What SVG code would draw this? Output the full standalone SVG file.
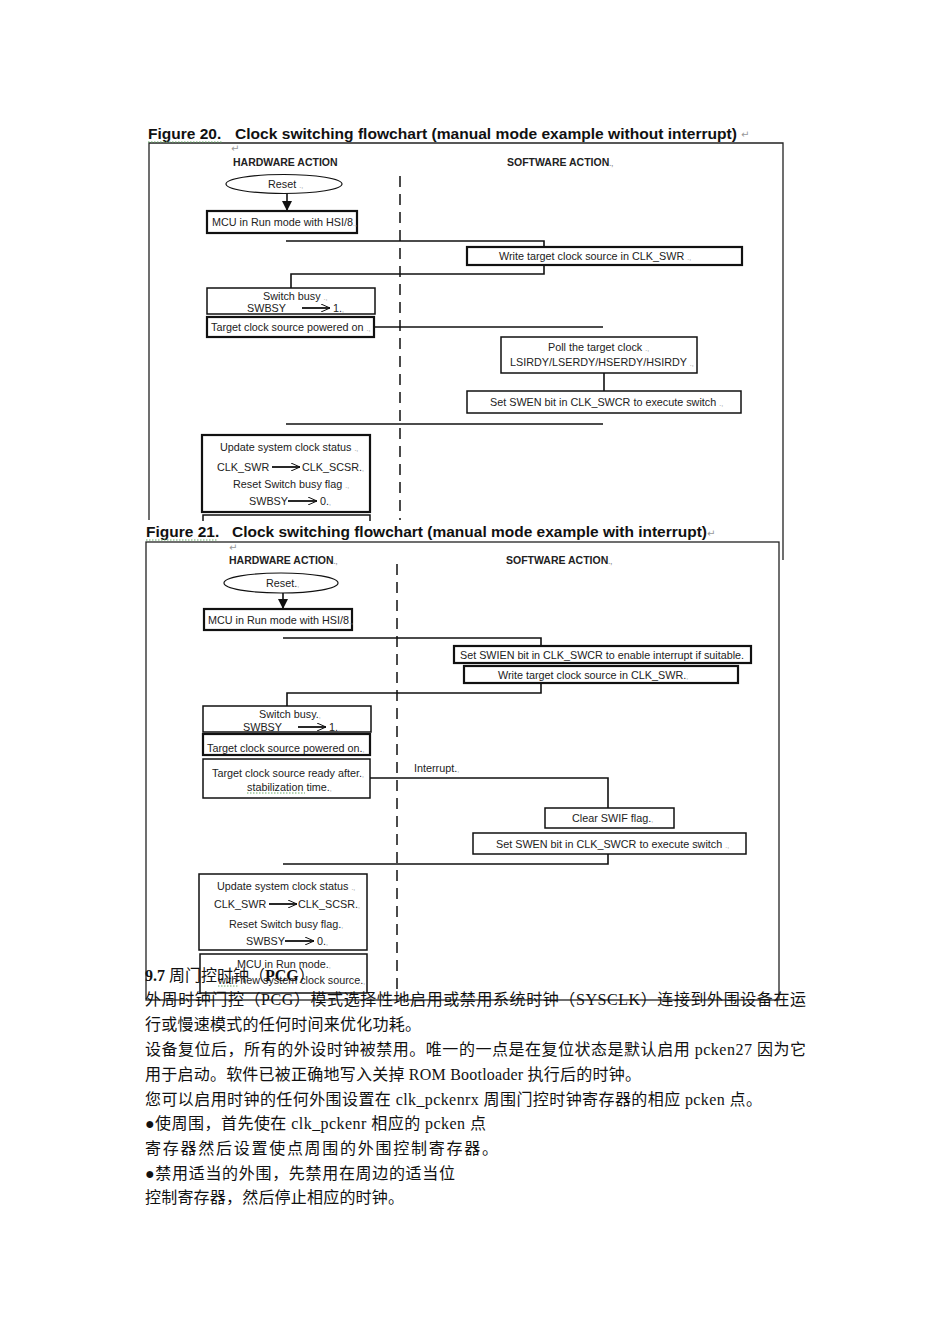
<svg xmlns="http://www.w3.org/2000/svg" width="950" height="1344" viewBox="0 0 950 1344">
<style>
.bg{fill:#fff}
.t{font-family:"Liberation Sans",Arial,sans-serif;font-size:10.8px;fill:#222}
.h{font-family:"Liberation Sans",Arial,sans-serif;font-size:10.5px;font-weight:bold;fill:#222}
.title{font-family:"Liberation Sans",Arial,sans-serif;font-size:15.5px;font-weight:bold;fill:#111}
.pm{fill:#999;font-size:7px}
.rt{font-family:"DejaVu Sans",sans-serif;font-size:10px;fill:#999}
.box{fill:#fff;stroke:#111;stroke-width:1.5}
.tb{fill:#fff;stroke:#111;stroke-width:2.2}
.ln{fill:none;stroke:#111;stroke-width:1.6}
.fr{fill:none;stroke:#222;stroke-width:1.3}
.dash{fill:none;stroke:#111;stroke-width:1.5;stroke-dasharray:11 7}
.ar{fill:none;stroke:#111;stroke-width:1.8}
.zh{font-family:"Liberation Serif","Noto Sans CJK SC",serif;font-size:16px;fill:#111}
.wv{fill:none;stroke:#6a6;stroke-width:1;stroke-dasharray:1.5 1.5}
</style>
<defs>
<marker id="down" markerWidth="10" markerHeight="10" refX="10" refY="5" orient="auto" markerUnits="userSpaceOnUse" viewBox="0 0 10 10">
<path d="M0,0 L10,5 L0,10 Z" fill="#111"/>
</marker>
<marker id="open" markerWidth="10" markerHeight="8" refX="9" refY="4" orient="auto" markerUnits="userSpaceOnUse" viewBox="0 0 10 8">
<path d="M0,0 L9,4 L0,8" fill="none" stroke="#111" stroke-width="1"/>
</marker>
</defs>
<rect class="bg" x="0" y="0" width="950" height="1344"/>

<!-- Figure 20 -->
<g id="fig20-frame">
<path class="fr" d="M149,520 L149,143 L783,143 L783,560"/>
<text class="title" x="148" y="139">Figure 20.</text>
<text class="title" x="235" y="139" textLength="502" lengthAdjust="spacingAndGlyphs">Clock switching flowchart (manual mode example without interrupt)</text>
<text class="rt" x="741" y="138">↵</text>
<path class="wv" d="M148,142 L222,142"/>
<text class="rt" x="231" y="152">↵</text>
<text class="h" x="233" y="166">HARDWARE ACTION</text>
<text class="h" x="507" y="166">SOFTWARE ACTION<tspan class="pm">.,</tspan></text>
<path class="dash" d="M400,176 L400,520"/>
</g>

<g id="f20-connectors">
<path class="ln" d="M287,193 L287,211" marker-end="url(#down)"/>
<path class="ln" d="M286,241 L544,241 L544,247"/>
<path class="ln" d="M544,265 L544,274 L291,274 L291,288"/>
<path class="ln" d="M374,327 L603,327"/>
<path class="ln" d="M604,373 L604,391"/>
<path class="ln" d="M286,424 L603,424"/>
</g>

<g id="f20-reset">
<ellipse cx="284" cy="184" rx="58" ry="9.5" fill="#fff" stroke="#111" stroke-width="1.2"/>
<text class="t" x="268" y="188">Reset <tspan class="pm">.,</tspan></text>
</g>
<g id="f20-mcu">
<rect class="tb" x="207" y="211" width="150" height="22"/>
<text class="t" x="212" y="226">MCU in Run mode with HSI/8<tspan class="pm">.,</tspan></text>
</g>
<g id="f20-write">
<rect class="tb" x="467" y="247" width="275" height="18"/>
<text class="t" x="499" y="260">Write target clock source in CLK_SWR <tspan class="pm">.,</tspan></text>
</g>
<g id="f20-busy">
<rect class="box" x="207" y="288" width="168" height="26"/>
<text class="t" x="263" y="300">Switch busy <tspan class="pm">.,</tspan></text>
<text class="t" x="247" y="312">SWBSY</text>
<path class="ar" d="M302,308 L330,308" marker-end="url(#open)"/>
<text class="t" x="333" y="312">1.<tspan class="pm">,</tspan></text>
</g>
<g id="f20-powered">
<rect class="tb" x="207" y="317" width="167" height="20"/>
<text class="t" x="211" y="331">Target clock source powered on <tspan class="pm">.,</tspan></text>
</g>
<g id="f20-poll">
<rect class="box" x="501" y="337" width="196" height="36"/>
<text class="t" x="548" y="351">Poll the target clock <tspan class="pm">.,</tspan></text>
<text class="t" x="510" y="366">LSIRDY/LSERDY/HSERDY/HSIRDY <tspan class="pm">.,</tspan></text>
</g>
<g id="f20-swen">
<rect class="box" x="467" y="391" width="274" height="22"/>
<text class="t" x="490" y="406">Set SWEN bit in CLK_SWCR to execute switch <tspan class="pm">.,</tspan></text>
</g>
<g id="f20-update">
<rect class="tb" x="202" y="435" width="168" height="77"/>
<text class="t" x="220" y="451">Update system clock status <tspan class="pm">.,</tspan></text>
<text class="t" x="217" y="471">CLK_SWR</text>
<path class="ar" d="M272,467 L300,467" marker-end="url(#open)"/>
<text class="t" x="302" y="471">CLK_SCSR.<tspan class="pm">,</tspan></text>
<text class="t" x="233" y="488">Reset Switch busy flag <tspan class="pm">.,</tspan></text>
<text class="t" x="249" y="505">SWBSY</text>
<path class="ar" d="M288,501 L317,501" marker-end="url(#open)"/>
<text class="t" x="320" y="505">0.<tspan class="pm">,</tspan></text>
</g>
<g id="f20-next">
<path class="box" d="M203,530 L203,515 L370,515 L370,530"/>
</g>

<!-- Figure 21 -->
<g id="fig21-frame">
<rect class="bg" x="143" y="521" width="600" height="20"/>
<text class="title" x="146" y="537">Figure 21.</text>
<text class="title" x="232" y="537" textLength="475" lengthAdjust="spacingAndGlyphs">Clock switching flowchart (manual mode example with interrupt)</text>
<text class="rt" x="707" y="537">↵</text>
<path class="wv" d="M146,540 L218,540"/>
<rect class="fr" x="146" y="542" width="633" height="458"/>
<text class="rt" x="229" y="551">↵</text>
<text class="h" x="229" y="564">HARDWARE ACTION<tspan class="pm">.,</tspan></text>
<text class="h" x="506" y="564">SOFTWARE ACTION<tspan class="pm">.,</tspan></text>
<path class="dash" d="M397,564 L397,995"/>
</g>

<g id="f21-connectors">
<path class="ln" d="M283,593 L283,609" marker-end="url(#down)"/>
<path class="ln" d="M283,638 L541,638 L541,646"/>
<path class="ln" d="M541,683 L541,693 L287,693 L287,706"/>
<path class="ln" d="M370,778 L608,778 L608,808"/>
<path class="ln" d="M608,854 L608,864 L283,864"/>
<text class="t" x="414" y="772">Interrupt.<tspan class="pm">,</tspan></text>
</g>

<g id="f21-reset">
<ellipse cx="281" cy="583" rx="57" ry="10" fill="#fff" stroke="#111" stroke-width="1.2"/>
<text class="t" x="266" y="587">Reset.<tspan class="pm">,</tspan></text>
</g>
<g id="f21-mcu">
<rect class="tb" x="204" y="609" width="148" height="21"/>
<text class="t" x="208" y="624">MCU in Run mode with HSI/8<tspan class="pm">.,</tspan></text>
</g>
<g id="f21-swien">
<rect class="tb" x="454" y="646" width="297" height="17"/>
<text class="t" x="460" y="659" textLength="284" lengthAdjust="spacingAndGlyphs">Set SWIEN bit in CLK_SWCR to enable interrupt if suitable.</text>
</g>
<g id="f21-write">
<rect class="tb" x="464" y="666" width="274" height="17"/>
<text class="t" x="498" y="679">Write target clock source in CLK_SWR.<tspan class="pm">,</tspan></text>
</g>
<g id="f21-busy">
<rect class="box" x="203" y="706" width="168" height="26"/>
<text class="t" x="259" y="718">Switch busy.<tspan class="pm">,</tspan></text>
<text class="t" x="243" y="731">SWBSY</text>
<path class="ar" d="M298,727 L326,727" marker-end="url(#open)"/>
<text class="t" x="329" y="731">1.<tspan class="pm">,</tspan></text>
</g>
<g id="f21-powered">
<rect class="tb" x="203" y="734" width="167" height="21"/>
<text class="t" x="207" y="752">Target clock source powered on.<tspan class="pm">,</tspan></text>
</g>
<g id="f21-ready">
<rect class="box" x="203" y="759" width="167" height="39"/>
<text class="t" x="212" y="777">Target clock source ready after.<tspan class="pm">,</tspan></text>
<text class="t" x="247" y="791">stabilization time.<tspan class="pm">,</tspan></text>
<path class="wv" d="M247,793 L305,793"/>
</g>
<g id="f21-clear">
<rect class="box" x="545" y="808" width="129" height="20"/>
<text class="t" x="572" y="822">Clear SWIF flag.<tspan class="pm">,</tspan></text>
</g>
<g id="f21-swen">
<rect class="box" x="473" y="833" width="273" height="21"/>
<text class="t" x="496" y="848">Set SWEN bit in CLK_SWCR to execute switch <tspan class="pm">.,</tspan></text>
</g>
<g id="f21-update">
<rect class="box" x="199" y="874" width="168" height="76"/>
<text class="t" x="217" y="890">Update system clock status <tspan class="pm">.,</tspan></text>
<text class="t" x="214" y="908">CLK_SWR</text>
<path class="ar" d="M269,904 L297,904" marker-end="url(#open)"/>
<text class="t" x="298" y="908">CLK_SCSR.<tspan class="pm">,</tspan></text>
<text class="t" x="229" y="928">Reset Switch busy flag.<tspan class="pm">,</tspan></text>
<text class="t" x="246" y="945">SWBSY</text>
<path class="ar" d="M285,941 L314,941" marker-end="url(#open)"/>
<text class="t" x="317" y="945">0.<tspan class="pm">,</tspan></text>
</g>
<g id="f21-final">
<rect class="box" x="200" y="954" width="167" height="39"/>
<text class="t" x="237" y="968">MCU in Run mode.<tspan class="pm">,</tspan></text>
<text class="t" x="218" y="984">with new system clock source.<tspan class="pm">,</tspan></text>
<path class="wv" d="M218,986 L238,986"/>
</g>

<!-- Chinese text -->
<g id="body-text">
<text class="zh" x="145" y="981"><tspan font-weight="bold">9.7</tspan> 周门控时钟（<tspan font-weight="bold">PCG</tspan>）</text>
<text class="zh" x="145" y="1005" textLength="661">外周时钟门控（PCG）模式选择性地启用或禁用系统时钟（SYSCLK）连接到外围设备在运</text>
<text class="zh" x="145" y="1030" textLength="276">行或慢速模式的任何时间来优化功耗。</text>
<text class="zh" x="145" y="1055" textLength="661">设备复位后，所有的外设时钟被禁用。唯一的一点是在复位状态是默认启用 pcken27 因为它</text>
<text class="zh" x="145" y="1080" textLength="496">用于启动。软件已被正确地写入关掉 ROM Bootloader 执行后的时钟。</text>
<text class="zh" x="145" y="1105" textLength="617">您可以启用时钟的任何外围设置在 clk_pckenrx 周围门控时钟寄存器的相应 pcken 点。</text>
<text class="zh" x="145" y="1129" textLength="341">●使周围，首先使在 clk_pckenr 相应的 pcken 点</text>
<text class="zh" x="145" y="1154" textLength="353">寄存器然后设置使点周围的外围控制寄存器。</text>
<text class="zh" x="145" y="1179" textLength="310">●禁用适当的外围，先禁用在周边的适当位</text>
<text class="zh" x="145" y="1203" textLength="259">控制寄存器，然后停止相应的时钟。</text>
</g>
</svg>
